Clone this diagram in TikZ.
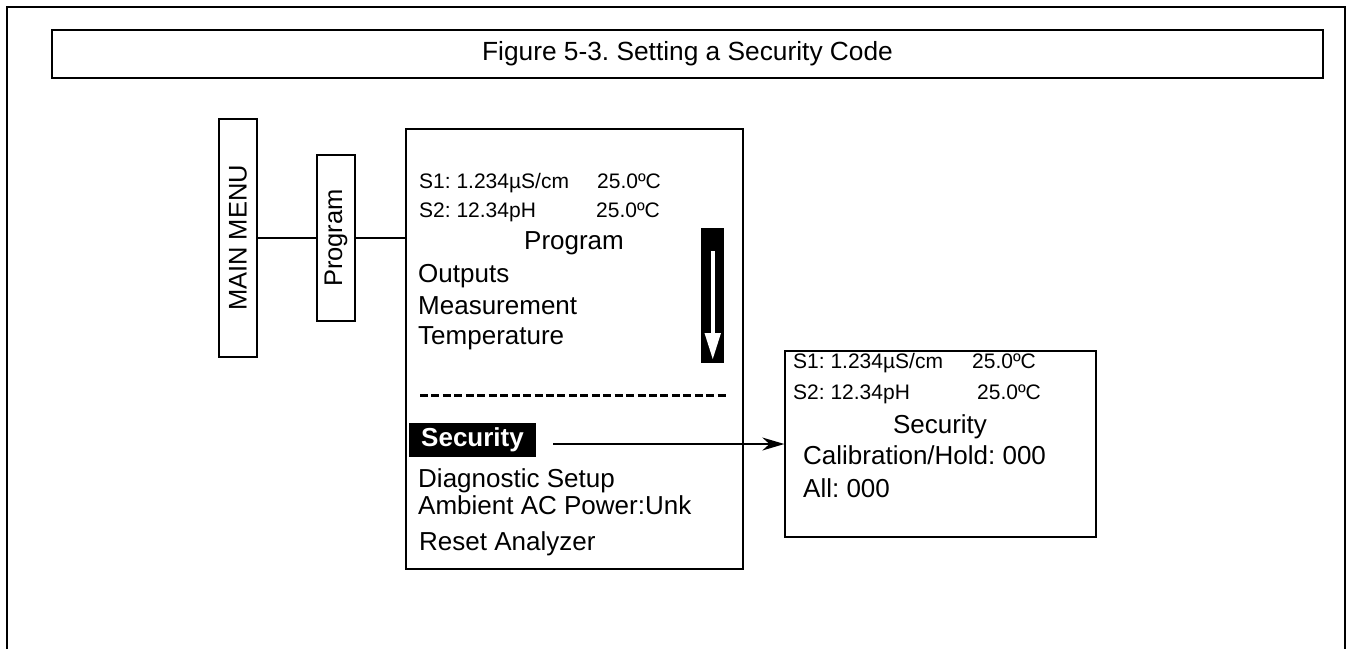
\documentclass[tikz,border=0pt]{standalone}
\usepackage{fontspec}
\setmainfont{Liberation Sans}
\usetikzlibrary{arrows.meta}
\frenchspacing

\tikzset{
  lcdsmall/.style={inner sep=0,anchor=base west,font=\fontsize{21}{25}\selectfont},
  lcdline/.style={inner sep=0,anchor=base west,font=\fontsize{26}{31}\selectfont},
  lcdhead/.style={inner sep=0,anchor=base,font=\fontsize{26}{31}\selectfont},
  screen/.style={draw,line width=1.4,minimum width=#1},
}

\begin{document}
\begin{tikzpicture}[x=1pt,y=-1pt]
  \useasboundingbox (0,0) rectangle (1348,649);
  % frame and caption
  \draw[line width=2.7] (7,649) -- (7,7) -- (1345,7) -- (1345,649);
  \node[draw,line width=2.7,minimum width=1271,minimum height=48,
        font=\fontsize{26.3}{31}\selectfont] (caption) at (687.5,54)
        {Figure 5-3. Setting a Security Code};

  % keys
  \begin{scope}[every node/.style={draw,line width=1.3,rotate=90,minimum height=38,
                                   font=\fontsize{25.5}{30}\selectfont}]
    \node[minimum width=238] (mainmenu) at (238,238) {MAIN MENU};
    \node[minimum width=166] (progkey) at (336,238) {Program};
  \end{scope}

  % screens
  \node[screen=337,minimum height=440] (progscreen) at (574.5,349) {};
  \node[screen=311,minimum height=186] (secscreen) at (940.5,444) {};

  % program screen
  \node[lcdsmall] (ps1) at (419,188) {S1: 1.234µS/cm};
  \node[lcdsmall] (ps1t) at (597,188) {25.0ºC};
  \node[lcdsmall] (ps2) at (419,217) {S2: 12.34pH};
  \node[lcdsmall] (ps2t) at (596,217) {25.0ºC};
  \node[lcdhead] (phead) at (574,249) {Program};
  \node[lcdline] (outputs) at (418,282) {Outputs};
  \node[lcdline] (meas) at (418,314) {Measurement};
  \node[lcdline] (temp) at (418,344) {Temperature};
  \node[fill=black,text=white,minimum width=127,minimum height=34,inner sep=0,
        font=\bfseries\fontsize{26}{31}\selectfont] (secitem) at (472.5,440) {Security};
  \node[lcdline] (diag) at (418,487) {Diagnostic Setup};
  \node[lcdline] (ambient) at (418,514) {Ambient AC Power:Unk};
  \node[lcdline] (reset) at (419,550) {Reset Analyzer};

  % scroll bar
  \fill (701,228) rectangle (724,363);
  \fill[white] (710.5,251) rectangle (715,335);
  \fill[white] (704.5,333) -- (721,333) -- (712.75,359) -- cycle;
  \draw[line width=3,dash pattern=on 8pt off 3.45pt] (420,395) -- (729,395);

  % security screen
  \node[lcdsmall] (ss1) at (793,368) {S1: 1.234µS/cm};
  \node[lcdsmall] (ss1t) at (972,368) {25.0ºC};
  \node[lcdsmall] (ss2) at (793,399) {S2: 12.34pH};
  \node[lcdsmall] (ss2t) at (977,399) {25.0ºC};
  \node[lcdhead] (shead) at (940,433) {Security};
  \node[lcdline] (calib) at (803,464) {Calibration/Hold: 000};
  \node[lcdline] (all) at (803,497) {All: 000};

  % connectors
  \coordinate (progin) at (progscreen.west |- progkey);
  \coordinate (secfrom) at (553,444);
  \begin{scope}[every edge/.style={draw=black,line width=1.3}]
    \path (mainmenu) edge (progkey)
          (progkey) edge (progin);
  \end{scope}
  \draw[line width=1.3,-{Stealth[length=22pt,width=13pt]}] (secfrom) -- (secscreen.west);
\end{tikzpicture}
\end{document}
